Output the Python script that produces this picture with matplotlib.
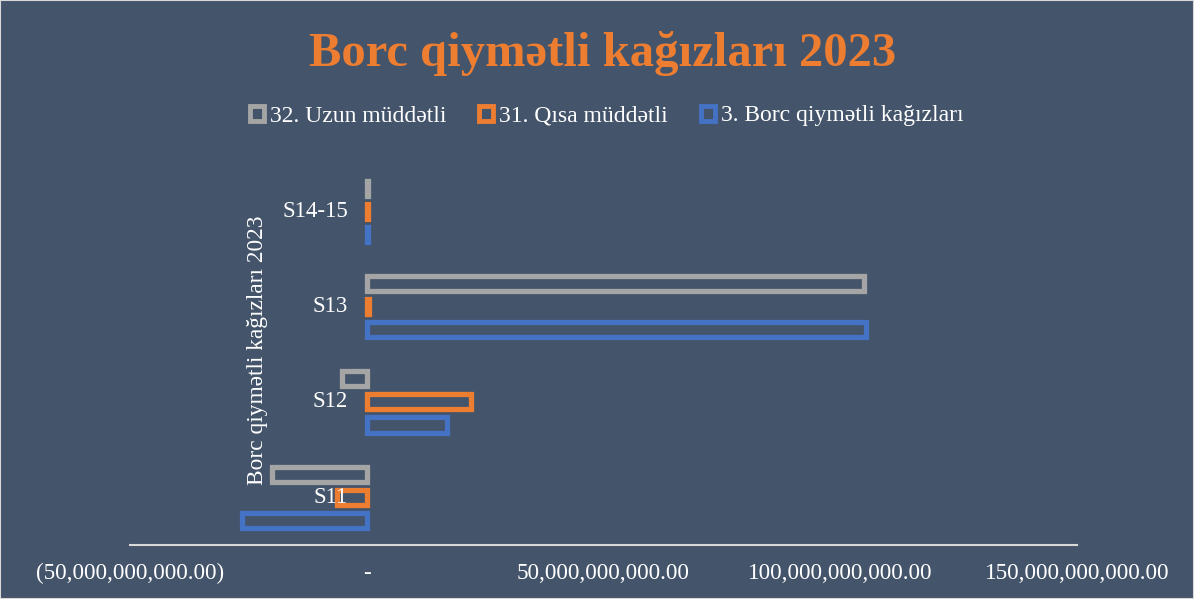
import matplotlib.pyplot as plt
import matplotlib.patches as patches
import numpy as np
from matplotlib.ticker import FuncFormatter

# Dati
categorie = ['S11', 'S12', 'S13', 'S14-15']
serie_nomi = ['32. Uzun müddətli', '31. Qısa müddətli', '3. Borc qiymətli kağızları']
uzun = [-20.0e9, -5.2e9, 105.0e9, 0.3e9]
qisa = [-6.3e9, 22.1e9, 0.4e9, 0.3e9]
borc = [-26.4e9, 16.9e9, 105.4e9, 0.3e9]
x_ticks = [-50e9, 0, 50e9, 100e9, 150e9]

bg = '#44546A'
colori = ['#A5A5A5', '#ED7D31', '#4472C4']

plt.rcParams['font.family'] = ['Liberation Serif', 'DejaVu Serif']

fig = plt.figure(figsize=(11.94, 5.99), dpi=100, facecolor=bg)
ax = fig.add_axes([130 / 1194, 1 - 545 / 599, 947 / 1194, (545 - 163.5) / 599])
ax.set_facecolor(bg)

y = np.arange(len(categorie))
slot = 0.242
h = 0.158
offsets = [slot, 0, -slot]
for valori, col, off, nome in zip([uzun, qisa, borc], colori, offsets, serie_nomi):
    ax.barh(y + off, valori, height=h, facecolor=bg, edgecolor=col, linewidth=3.8, label=nome)

ax.set_xlim(-50e9, 150e9)
ax.set_ylim(-0.5, 3.5)

def fmt(v, pos):
    if v == 0:
        return '-'
    s = f'{abs(v):,.2f}'
    return f'({s})' if v < 0 else s

ax.set_xticks(x_ticks)
ax.xaxis.set_major_formatter(FuncFormatter(fmt))
ax.tick_params(axis='x', length=0, pad=13, labelsize=16.7, colors='white')
ax.set_yticks([])
for s in ['top', 'right', 'left']:
    ax.spines[s].set_visible(False)
ax.spines['bottom'].set_color('#D9D9D9')
ax.spines['bottom'].set_linewidth(1.5)

# Etichette categorie vicino all'asse zero
for i, c in enumerate(categorie):
    ax.annotate(c, (0, i), xytext=(-19, 0), textcoords='offset pixels',
                ha='right', va='center', fontsize=16.5, color='white')

fig.text(257 / 1194, 1 - 350 / 599, 'Borc qiymətli kağızları 2023', rotation=90,
         ha='center', va='center', fontsize=16.8, color='white')

fig.text(0.505, 1 - 53 / 599, 'Borc qiymətli kağızları 2023', ha='center', va='center',
         fontsize=35, fontweight='bold', color='#ED7D31')

handles = [patches.Patch(facecolor=bg, edgecolor=c, linewidth=3.5) for c in colori]
leg = fig.legend(handles, serie_nomi, loc='center', bbox_to_anchor=(0.508, 1 - 116 / 599),
                 ncol=3, frameon=False, fontsize=17, handlelength=0.6, handleheight=0.6,
                 handletextpad=0.25, columnspacing=1.4)
for t in leg.get_texts():
    t.set_color('white')

fig.add_artist(patches.Rectangle((0, 0), 1, 1, transform=fig.transFigure, fill=False,
                                 edgecolor='#D9D9D9', linewidth=1.5))

plt.savefig('out.png', dpi=100, facecolor=bg)
